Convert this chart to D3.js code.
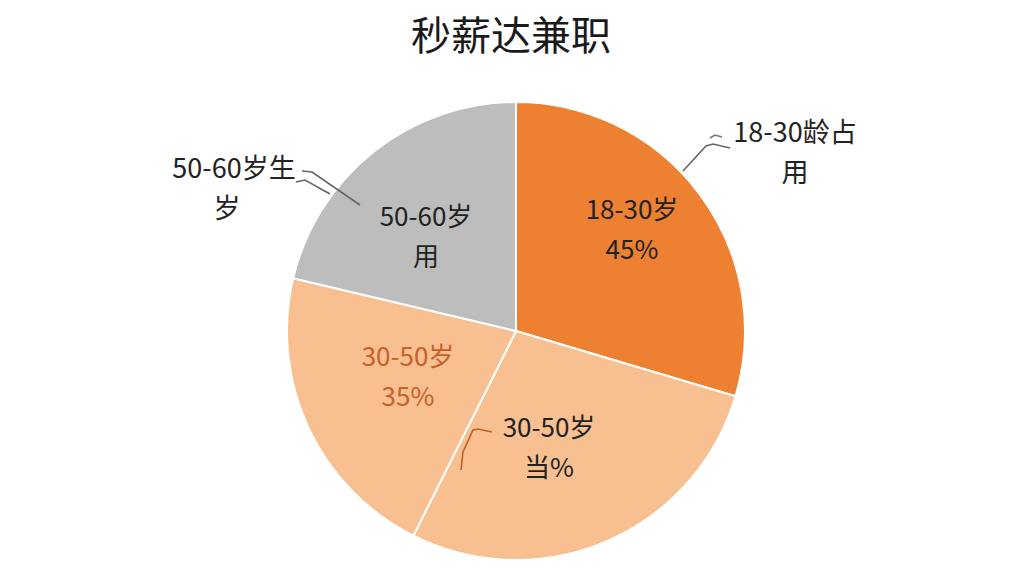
<!DOCTYPE html>
<html>
<head>
<meta charset="utf-8">
<script src="https://cdn.jsdelivr.net/npm/d3@7/dist/d3.min.js"></script>
<style>
  body { margin: 0; background: #fff; }
  svg { display: block; font-family: "Noto Sans CJK SC", "Noto Sans", sans-serif; }
</style>
</head>
<body>
<div id="chart"></div>
<script>
// 数据
const categories = ["18-30岁", "30-50岁", "30-50岁", "50-60岁"];
const values = [29.6, 27.8, 21.3, 21.3];
const colors = ["#ee8031", "#f8bf91", "#f8bf91", "#bdbdbd"];
const innerLabels = [["18-30岁", "45%"], ["30-50岁", "当%"], ["30-50岁", "35%"], ["50-60岁", "用"]];
const innerColors = ["#222", "#222", "#c9602a", "#222"];
const outerLabels = [["18-30龄占", "用"], null, null, ["50-60岁生", "岁"]];

const width = 1024, height = 576;
const cx = 516, cy = 331, radius = 229;

// 标签位置 (相对圆心)
const innerPos = [[116, -112], [33, 106], [-108, 35], [-90, -105]];
const outerPos = [[279, -189], null, null, [-282, -153]];

const svg = d3.select("#chart")
    .append("svg")
    .attr("width", width)
    .attr("height", height);

svg.append("text")
    .attr("x", 511)
    .attr("y", 50)
    .attr("text-anchor", "middle")
    .attr("font-size", 40)
    .attr("fill", "#1a1a1a")
    .text("秒薪达兼职");

const pie = d3.pie().sort(null).value(d => d);
const arcs = pie(values);
const arc = d3.arc().innerRadius(0).outerRadius(radius);

const g = svg.append("g").attr("transform", `translate(${cx},${cy})`);

g.selectAll("path.slice")
    .data(arcs)
    .enter()
    .append("path")
    .attr("class", "slice")
    .attr("d", arc)
    .attr("fill", (d, i) => colors[i])
    .attr("stroke", "#fff")
    .attr("stroke-width", 2);

// 内部标签
innerLabels.forEach((lines, i) => {
    const t = g.append("text")
        .attr("text-anchor", "middle")
        .attr("font-size", 26)
        .attr("fill", innerColors[i]);
    lines.forEach((s, k) => {
        t.append("tspan")
            .attr("x", innerPos[i][0])
            .attr("y", innerPos[i][1] + k * 40)
            .text(s);
    });
});

// 外部标签
outerLabels.forEach((lines, i) => {
    if (!lines) return;
    const t = g.append("text")
        .attr("text-anchor", "middle")
        .attr("font-size", 27)
        .attr("fill", "#222");
    lines.forEach((s, k) => {
        t.append("tspan")
            .attr("x", outerPos[i][0] + (k == 1 && i == 3 ? -7 : 0))
            .attr("y", outerPos[i][1] + k * 40)
            .text(s);
    });
});

// 引导线
const line = d3.line();
const leaders = [
    { pts: [[167, -160], [190, -185], [197, -187], [214, -183]], color: "#666" },
    { pts: [[194, -193], [199, -196], [206, -194]], color: "#777" },
    { pts: [[-156, -126], [-204, -159], [-214, -160]], color: "#666" },
    { pts: [[-186, -137], [-211, -151], [-220, -149]], color: "#666" },
    { pts: [[-55, 139], [-53, 121], [-43, 99], [-38, 98], [-24, 101]], color: "#c0622a" }
];
leaders.forEach(l => {
    g.append("path")
        .attr("d", line(l.pts))
        .attr("fill", "none")
        .attr("stroke", l.color)
        .attr("stroke-width", 1.6);
});
</script>
</body>
</html>
